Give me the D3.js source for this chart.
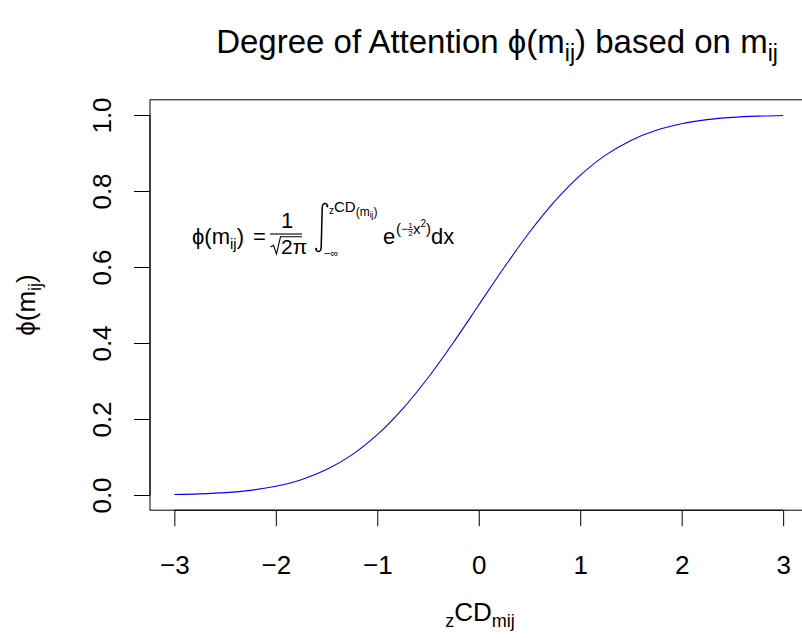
<!DOCTYPE html>
<html>
<head>
<meta charset="utf-8">
<script src="https://cdn.jsdelivr.net/npm/d3@7"></script>
<style>
  body { margin: 0; background: #fff; }
  svg { display: block; }
  text { font-family: "Liberation Sans", Arial, Helvetica, sans-serif; fill: #000; }
</style>
</head>
<body>
<svg id="chart"></svg>
<script>
// values
const zValues = [-3, -2.75, -2.5, -2.25, -2, -1.75, -1.5, -1.25, -1, -0.75, -0.5, -0.25,
  0, 0.25, 0.5, 0.75, 1, 1.25, 1.5, 1.75, 2, 2.25, 2.5, 2.75, 3];
const phiValues = [0.0013, 0.003, 0.0062, 0.0122, 0.0228, 0.0401, 0.0668, 0.1056, 0.1587,
  0.2266, 0.3085, 0.4013, 0.5, 0.5987, 0.6915, 0.7734, 0.8413, 0.8944, 0.9332, 0.9599,
  0.9772, 0.9878, 0.9938, 0.997, 0.9987];
const xTicks = [-3, -2, -1, 0, 1, 2, 3];
const yTicks = [0, 0.2, 0.4, 0.6, 0.8, 1.0];

const W = 802, H = 638;
const mLeft = 150, mRight = 807.5, mTop = 99.8, mBottom = 510.2;
const tick = 16, fs = 26;
const PHI = '\u03d5';

const svg = d3.select('#chart').attr('width', W).attr('height', H);

const x = d3.scaleLinear().domain([-3.24, 3.24]).range([mLeft, mRight]);
const y = d3.scaleLinear().domain([-0.04, 1.04]).range([mBottom, mTop]);

// box
svg.append('rect')
  .attr('x', mLeft).attr('y', mTop)
  .attr('width', mRight - mLeft).attr('height', mBottom - mTop)
  .attr('fill', 'none').attr('stroke', '#000').attr('stroke-width', 1);

// x axis
const xAxis = svg.append('g').attr('transform', `translate(0,${mBottom})`)
  .call(d3.axisBottom(x).tickValues(xTicks).tickSize(tick)
    .tickFormat(d3.format('d')));
xAxis.select('.domain').attr('d', `M${x(-3)},0H${x(3)}`);
xAxis.selectAll('text').attr('font-size', fs).attr('dy', null).attr('y', 64);

// y axis
const yAxis = svg.append('g').attr('transform', `translate(${mLeft},0)`)
  .call(d3.axisLeft(y).tickValues(yTicks).tickSize(tick).tickFormat(d3.format('.1f')));
yAxis.select('.domain').attr('d', `M0,${y(0)}V${y(1)}`);
yAxis.selectAll('.tick text')
  .attr('font-size', fs)
  .attr('x', null).attr('dy', null).attr('y', 0)
  .attr('text-anchor', 'middle')
  .attr('transform', 'translate(-39,0) rotate(-90)');
svg.selectAll('.tick line').attr('stroke', '#000');
svg.selectAll('.domain').attr('stroke', '#000');
svg.selectAll('.tick text').attr('fill', '#000');
svg.selectAll('g').attr('font-family', null);

// curve
const line = d3.line()
  .x((d, i) => x(zValues[i]))
  .y(d => y(d))
  .curve(d3.curveCatmullRom);
svg.append('path')
  .datum(phiValues)
  .attr('d', line)
  .attr('fill', 'none')
  .attr('stroke', '#0000ff')
  .attr('stroke-width', 1.1);

// title
const title = svg.append('text')
  .attr('x', 497).attr('y', 53)
  .attr('text-anchor', 'middle').attr('font-size', 33);
title.append('tspan').text('Degree of Attention ' + PHI + '(m');
title.append('tspan').attr('font-size', 23).attr('dy', 8).text('ij');
title.append('tspan').attr('dy', -8).text(') based on m');
title.append('tspan').attr('font-size', 23).attr('dy', 8).text('ij');

// x label
const xl = svg.append('text')
  .attr('x', 480).attr('y', 621)
  .attr('text-anchor', 'middle').attr('font-size', fs);
xl.append('tspan').attr('font-size', 18).attr('dy', 6).text('z');
xl.append('tspan').attr('dy', -6).text('CD');
xl.append('tspan').attr('font-size', 18).attr('dy', 6).text('mij');

// y label
const yl = svg.append('text')
  .attr('transform', `translate(35,${(mTop + mBottom) / 2}) rotate(-90)`)
  .attr('text-anchor', 'middle').attr('font-size', fs);
yl.append('tspan').text(PHI + '(m');
yl.append('tspan').attr('font-size', 18).attr('dy', 6).text('ij');
yl.append('tspan').attr('dy', -6).text(')');

// formula
const f = svg.append('g');
const base = 243.5;
const t1 = f.append('text').attr('x', 192).attr('y', base).attr('font-size', 22);
t1.append('tspan').text(PHI + '(m');
t1.append('tspan').attr('font-size', 15).attr('dy', 5).text('ij');
t1.append('tspan').attr('dy', -5).text(')');
f.append('text').attr('x', 253).attr('y', base).attr('font-size', 22).text('=');
// fraction 1 / sqrt(2 pi)
f.append('line').attr('x1', 270).attr('x2', 302).attr('y1', 234).attr('y2', 234)
  .attr('stroke', '#000').attr('stroke-width', 1.1);
f.append('text').attr('x', 287).attr('y', 228).attr('text-anchor', 'middle')
  .attr('font-size', 22).text('1');
f.append('path').attr('d', 'M270.5,247 L273.5,245.3 L276.5,254 L280.5,236.8 L302,236.8')
  .attr('fill', 'none').attr('stroke', '#000').attr('stroke-width', 1.1);
f.append('text').attr('x', 281).attr('y', 253.5).attr('font-size', 21).text('2\u03c0');
// integral sign
f.append('path')
  .attr('d', 'M327.5,206 C327,202.5 322.5,202 322.2,208 L321.2,247 C321,253 316.5,252.5 316,249')
  .attr('fill', 'none').attr('stroke', '#000').attr('stroke-width', 1.5);
f.append('circle').attr('cx', 327.3).attr('cy', 206.3).attr('r', 1.1).attr('fill', '#000');
f.append('circle').attr('cx', 316.2).attr('cy', 248.8).attr('r', 1.1).attr('fill', '#000');
const up = f.append('text').attr('x', 329).attr('y', 212).attr('font-size', 15);
up.append('tspan').attr('font-size', 10).attr('dy', 1.5).text('z');
up.append('tspan').attr('dy', -1.5).text('CD');
up.append('tspan').attr('font-size', 12).attr('dy', 3.5).text('(m');
up.append('tspan').attr('font-size', 8.5).attr('dy', 2).text('ij');
up.append('tspan').attr('font-size', 12).attr('dy', -2).text(')');
f.append('text').attr('x', 324).attr('y', 257).attr('font-size', 11).text('\u2212\u221e');
f.append('text').attr('x', 383).attr('y', base).attr('font-size', 22).text('e');
f.append('text').attr('x', 396).attr('y', 233.5).attr('font-size', 15).text('(');
f.append('text').attr('x', 401).attr('y', 232.5).attr('font-size', 12).text('\u2212');
f.append('text').attr('x', 410.5).attr('y', 228).attr('font-size', 8).attr('text-anchor', 'middle').text('1');
f.append('line').attr('x1', 408).attr('x2', 413).attr('y1', 229.5).attr('y2', 229.5)
  .attr('stroke', '#000').attr('stroke-width', 0.8);
f.append('text').attr('x', 410.5).attr('y', 235.5).attr('font-size', 8).attr('text-anchor', 'middle').text('2');
const ex2 = f.append('text').attr('x', 413).attr('y', 233.5).attr('font-size', 15);
ex2.append('tspan').text('x');
ex2.append('tspan').attr('font-size', 10).attr('dy', -7).text('2');
ex2.append('tspan').attr('dy', 7).attr('font-size', 15).text(')');
f.append('text').attr('x', 431).attr('y', base).attr('font-size', 22).text('dx');
</script>
</body>
</html>
